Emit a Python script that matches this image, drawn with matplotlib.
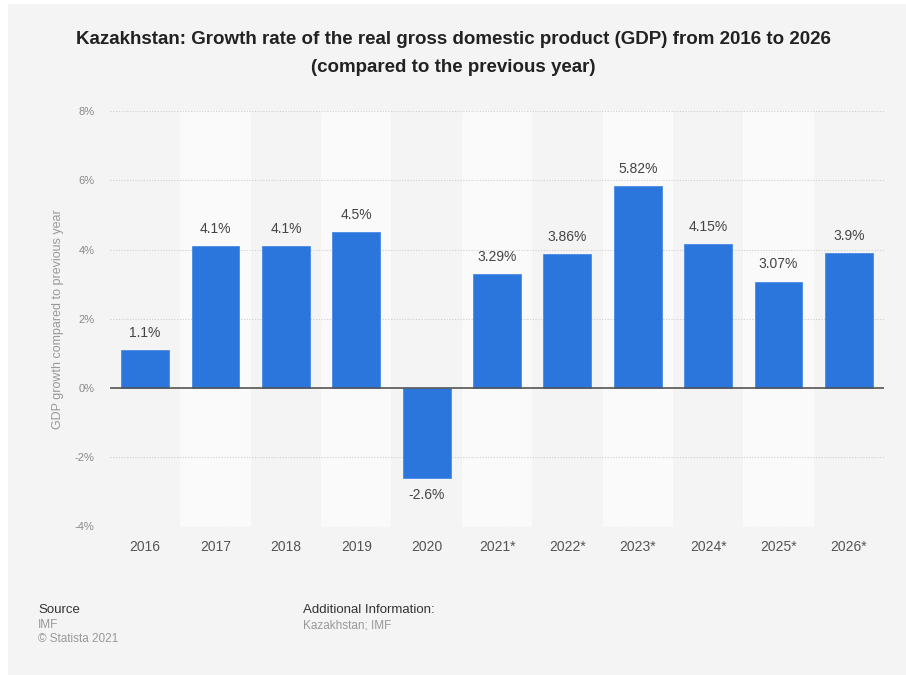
import matplotlib
matplotlib.use("Agg")
import matplotlib.pyplot as plt
import matplotlib.patches as mpatches

plt.rcParams['font.family'] = ['Liberation Sans', 'DejaVu Sans']

years = ["2016", "2017", "2018", "2019", "2020", "2021*", "2022*",
         "2023*", "2024*", "2025*", "2026*"]
growth = [1.1, 4.1, 4.1, 4.5, -2.6, 3.29, 3.86, 5.82, 4.15, 3.07, 3.9]
labels = ["1.1%", "4.1%", "4.1%", "4.5%", "-2.6%", "3.29%", "3.86%",
          "5.82%", "4.15%", "3.07%", "3.9%"]
yticks = [-4, -2, 0, 2, 4, 6, 8]

W, H = 906, 675
fig = plt.figure(figsize=(W / 100, H / 100), dpi=100)
fig.patch.set_facecolor("white")

# grey card behind everything
fig.patches.append(mpatches.Rectangle((8 / W, 0), 1 - 8 / W, 1 - 4 / H,
                                      transform=fig.transFigure,
                                      facecolor="#f4f4f4", edgecolor="none",
                                      zorder=-10))

ax_w = 884 - 110
ax = fig.add_axes([110 / W, 1 - 526.5 / H, ax_w / W, (526.5 - 111) / H])
ax.set_facecolor("none")

x = list(range(len(years)))
ax.set_xlim(-0.5, len(years) - 0.5)
ax.set_ylim(-4, 8)

# alternating column bands
for i in x:
    if i % 2 == 1:
        ax.axvspan(i - 0.5, i + 0.5, color="#fafafa", zorder=0, lw=0)

for v in yticks:
    if v != 0:
        ax.axhline(v, color="#cfcfcf", lw=0.8, ls=(0, (1, 1.5)), zorder=1)

ax.bar(x, growth, width=0.68, color="#2a76dc", edgecolor="#4a8ae6",
       linewidth=0.6, zorder=3)
ax.axhline(0, color="#555555", lw=1.2, zorder=4)

for xi, v, lab in zip(x, growth, labels):
    if v >= 0:
        ax.text(xi, v + 0.3, lab, ha="center", va="bottom", fontsize=10,
                color="#444444", zorder=5)
    else:
        ax.text(xi, v - 0.3, lab, ha="center", va="top", fontsize=10,
                color="#444444", zorder=5)

ax.set_xticks(x)
ax.set_xticklabels(years, fontsize=10, color="#555555")
ax.set_yticks(yticks)
ax.set_yticklabels([f"{v}%" for v in yticks], fontsize=8, color="#888888")
ax.tick_params(length=0)
ax.tick_params(axis="x", pad=10)
ax.tick_params(axis="y", pad=11)
for s in ax.spines.values():
    s.set_visible(False)

ax.set_ylabel("GDP growth compared to previous year", fontsize=9,
              color="#999999")
ax.yaxis.set_label_coords(-46 / ax_w, 0.5)

fig.text(0.5, 1 - 40 / H,
         "Kazakhstan: Growth rate of the real gross domestic product (GDP) from 2016 to 2026",
         ha="center", va="center", fontsize=13.5, fontweight="bold", color="#222222")
fig.text(0.5, 1 - 67 / H, "(compared to the previous year)",
         ha="center", va="center", fontsize=13.5, fontweight="bold", color="#222222")

fig.text(38 / W, 1 - 610 / H, "Source", fontsize=9.5, color="#333333", va="center")
fig.text(38 / W, 1 - 625 / H, "IMF", fontsize=8.5, color="#999999", va="center")
fig.text(38 / W, 1 - 639 / H, "\u00a9 Statista 2021", fontsize=8.5, color="#999999", va="center")
fig.text(303 / W, 1 - 610 / H, "Additional Information:", fontsize=9.5,
         color="#333333", va="center")
fig.text(303 / W, 1 - 625 / H, "Kazakhstan; IMF", fontsize=8.5, color="#999999",
         va="center")

fig.savefig("out.png", dpi=100)
